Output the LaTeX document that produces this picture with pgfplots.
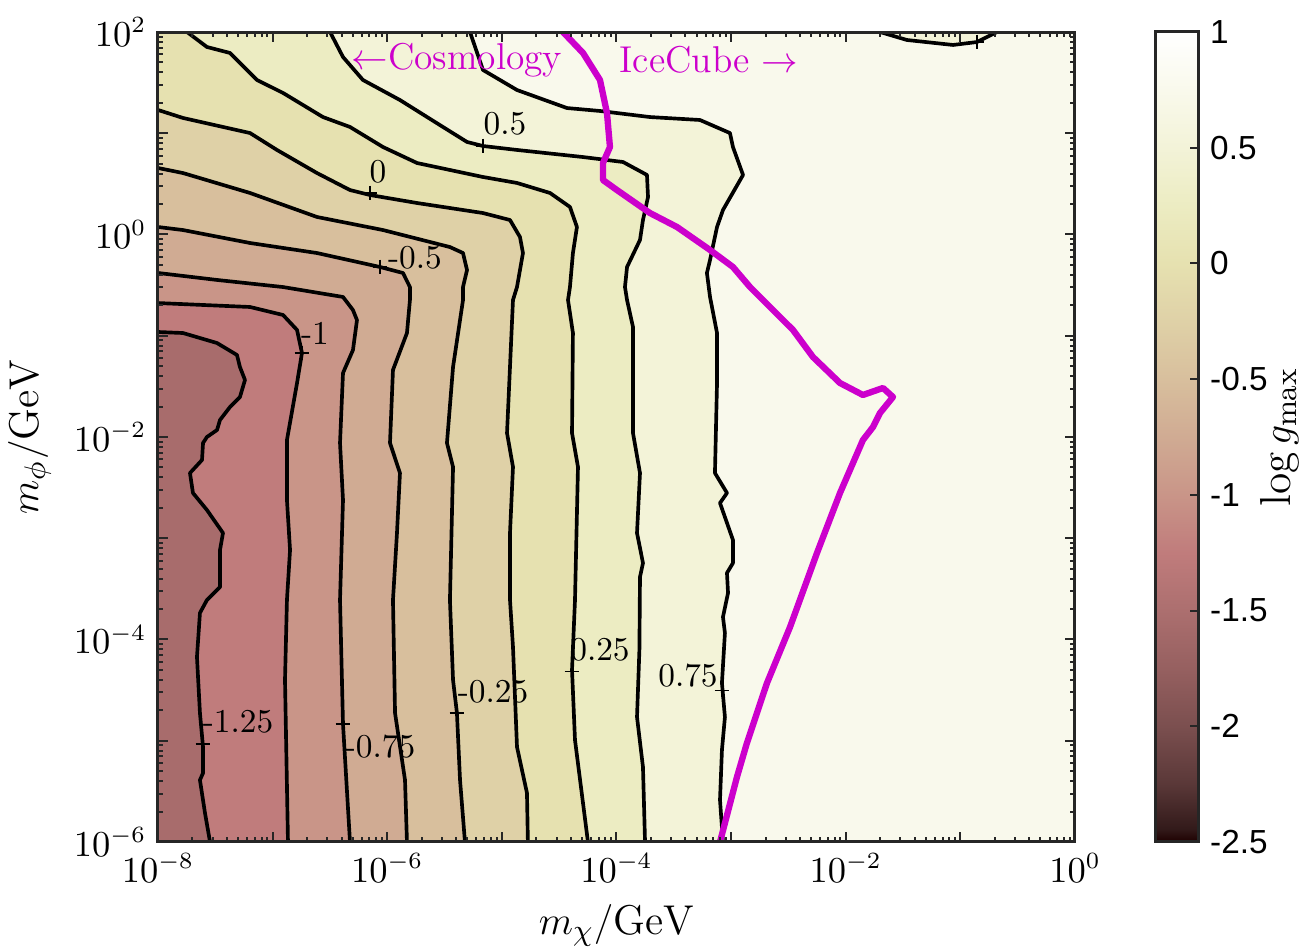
\documentclass[border=0pt]{standalone}
\usepackage{fontspec}
\setsansfont{Liberation Sans}
\usepackage{pgfplots}
\usepackage{pgfplotstable}
\pgfplotsset{compat=1.18}

% filled bands (colour of the lower level, MATLAB "pink")
\definecolor{rA}{RGB}{249,249,236}
\definecolor{rB}{RGB}{243,243,216}
\definecolor{rC}{RGB}{236,236,194}
\definecolor{rD}{RGB}{230,225,176}
\definecolor{rE}{RGB}{223,209,167}
\definecolor{rF}{RGB}{216,191,157}
\definecolor{rG}{RGB}{208,171,147}
\definecolor{rH}{RGB}{201,149,136}
\definecolor{rI}{RGB}{192,124,124}
\definecolor{rJ}{RGB}{168,108,108}
\definecolor{icemag}{RGB}{204,0,204}

\pgfplotsset{
  colormap={gpink}{rgb255(0cm)=(30,0,0) rgb255(0.22cm)=(50,26,26) rgb255(1cm)=(90,56,56)
    rgb255(2cm)=(123,79,79) rgb255(3cm)=(150,96,96) rgb255(4cm)=(172,111,111)
    rgb255(5cm)=(192,124,124) rgb255(6cm)=(201,149,136) rgb255(7cm)=(208,171,147)
    rgb255(8cm)=(216,191,157) rgb255(9cm)=(223,209,167) rgb255(10cm)=(230,225,176)
    rgb255(11cm)=(236,236,194) rgb255(12cm)=(243,243,216) rgb255(13cm)=(249,249,236)
    rgb255(14cm)=(255,255,255)},
  band/.style={draw=none, fill=#1, forget plot},
  cline/.style={black, line width=1.1pt, line join=round, forget plot},
}

% contour lines, log10(m_chi) vs log10(m_phi)
\pgfplotstableread{
x y
-5.278 2
-5.165 1.625
-4.868 1.427
-4.432 1.249
-4.144 1.220
-3.708 1.160
-3.272 1.131
-3.010 1.002
-2.984 0.864
-2.896 0.588
-3.071 0.242
-3.123 0.074
-3.184 -0.252
-3.211 -0.380
-3.184 -0.617
-3.123 -0.973
-3.123 -1.467
-3.141 -2.356
-3.036 -2.553
-3.097 -2.652
-2.984 -3.017
-2.984 -3.245
-3.036 -3.343
-3.027 -3.541
-3.071 -3.778
-3.054 -3.936
-3.080 -4.430
-3.054 -4.766
-3.080 -5.092
-3.097 -5.585
-3.071 -6
}\ctA
\pgfplotstableread{
x y
-1.701 2
-1.466 1.921
-1.064 1.872
-0.855 1.901
-0.681 2
}\ctAb
\pgfplotstableread{
x y
-6.499 2
-6.386 1.753
-6.212 1.526
-5.889 1.328
-5.514 1.062
-5.304 0.914
-5.165 0.874
-4.868 0.835
-4.292 0.765
-3.943 0.716
-3.734 0.588
-3.725 0.370
-3.769 0.143
-3.795 -0.054
-3.908 -0.321
-3.926 -0.519
-3.908 -0.647
-3.856 -0.914
-3.856 -1.467
-3.856 -1.961
-3.795 -2.356
-3.821 -2.948
-3.769 -3.245
-3.795 -3.383
-3.800 -4.100
-3.821 -4.766
-3.769 -5.260
-3.751 -6
}\ctB
\pgfplotstableread{
x y
-7.747 2
-7.573 1.852
-7.372 1.793
-7.136 1.526
-6.909 1.398
-6.561 1.160
-6.325 1.062
-6.037 0.864
-5.740 0.706
-5.165 0.568
-4.868 0.509
-4.580 0.410
-4.406 0.272
-4.345 0.074
-4.380 -0.183
-4.406 -0.519
-4.423 -0.647
-4.380 -0.973
-4.388 -1.961
-4.336 -2.296
-4.362 -3.610
-4.388 -4.301
-4.362 -4.993
-4.249 -6
}\ctC
\pgfplotstableread{
x y
-8 1.230
-7.782 1.151
-7.197 1.002
-6.962 0.835
-6.613 0.607
-6.325 0.439
-6.151 0.390
-5.740 0.311
-5.165 0.212
-4.929 0.143
-4.842 -0.025
-4.816 -0.183
-4.868 -0.519
-4.903 -0.647
-4.955 -1.961
-4.903 -2.296
-4.929 -2.948
-4.929 -3.610
-4.903 -4.074
-4.868 -5.062
-4.781 -5.516
-4.773 -6
}\ctD
\pgfplotstableread{
x y
-8 0.657
-7.782 0.607
-7.197 0.410
-6.613 0.173
-6.037 0.044
-5.453 -0.124
-5.339 -0.183
-5.304 -0.351
-5.339 -0.519
-5.339 -0.647
-5.426 -1.309
-5.479 -2.059
-5.426 -2.296
-5.453 -3.610
-5.426 -4.400
-5.392 -4.726
-5.365 -5.388
-5.322 -6
}\ctE
\pgfplotstableread{
x y
-8 0.074
-7.782 0.044
-7.197 -0.084
-6.613 -0.183
-6.063 -0.321
-5.863 -0.380
-5.802 -0.519
-5.802 -0.647
-5.828 -0.973
-5.950 -1.338
-5.976 -2.059
-5.889 -2.356
-5.915 -2.948
-5.950 -3.610
-5.932 -4.726
-5.845 -5.388
-5.828 -6
}\ctF
\pgfplotstableread{
x y
-8 -0.380
-7.485 -0.449
-6.909 -0.519
-6.386 -0.617
-6.299 -0.746
-6.264 -0.845
-6.299 -1.141
-6.386 -1.368
-6.412 -2.059
-6.386 -2.622
-6.412 -3.610
-6.386 -4.835
-6.325 -6
}\ctG
\pgfplotstableread{
x y
-8 -0.677
-7.197 -0.716
-6.909 -0.795
-6.787 -0.943
-6.744 -1.170
-6.787 -1.467
-6.875 -2.030
-6.875 -2.622
-6.848 -3.116
-6.875 -3.610
-6.892 -4.400
-6.866 -6
}\ctH
\pgfplotstableread{
x y
-8 -0.963
-7.782 -0.973
-7.485 -1.072
-7.311 -1.190
-7.285 -1.309
-7.241 -1.437
-7.285 -1.605
-7.372 -1.704
-7.459 -1.832
-7.485 -1.931
-7.573 -2.000
-7.607 -2.059
-7.616 -2.227
-7.721 -2.356
-7.695 -2.553
-7.573 -2.721
-7.433 -2.948
-7.459 -3.116
-7.459 -3.482
-7.573 -3.610
-7.634 -3.738
-7.660 -4.173
-7.634 -4.726
-7.607 -5.062
-7.607 -5.319
-7.634 -5.388
-7.590 -5.714
-7.546 -6
}\ctI
% IceCube boundary
\pgfplotstableread{
x y
-4.467 2
-4.292 1.793
-4.144 1.526
-4.083 1.200
-4.057 0.864
-4.118 0.706
-4.118 0.538
-3.996 0.439
-3.708 0.212
-3.472 0.074
-3.184 -0.153
-2.984 -0.321
-2.835 -0.519
-2.547 -0.845
-2.460 -0.943
-2.286 -1.210
-2.050 -1.467
-1.850 -1.585
-1.675 -1.516
-1.588 -1.605
-1.701 -1.763
-1.762 -1.901
-1.850 -2.030
-2.050 -2.553
-2.251 -3.146
-2.486 -3.877
-2.687 -4.430
-2.862 -5.022
-2.949 -5.358
-3.097 -6
}\ctIce

\begin{document}
\begin{tikzpicture}
\begin{axis}[
  name=main,
  scale only axis, width=275.1pt, height=243pt,
  xmin=-8, xmax=0, ymin=-6, ymax=2, enlargelimits=false,
  axis on top,
  tick pos=both, tick align=inside,
  major tick length=3pt, minor tick length=1.5pt,
  tick style={black!85, line width=0.6pt},
  axis line style={black!85, line width=0.9pt},
  xtick={-8,-7,...,0},
  xticklabels={$10^{-8}$,,$10^{-6}$,,$10^{-4}$,,$10^{-2}$,,$10^{0}$},
  ytick={-6,-5,...,2},
  yticklabels={$10^{-6}$,,$10^{-4}$,,$10^{-2}$,,$10^{0}$,,$10^{2}$},
  minor xtick={-7.699,-7.523,-7.398,-7.301,-7.222,-7.155,-7.097,-7.046,
    -6.699,-6.523,-6.398,-6.301,-6.222,-6.155,-6.097,-6.046,
    -5.699,-5.523,-5.398,-5.301,-5.222,-5.155,-5.097,-5.046,
    -4.699,-4.523,-4.398,-4.301,-4.222,-4.155,-4.097,-4.046,
    -3.699,-3.523,-3.398,-3.301,-3.222,-3.155,-3.097,-3.046,
    -2.699,-2.523,-2.398,-2.301,-2.222,-2.155,-2.097,-2.046,
    -1.699,-1.523,-1.398,-1.301,-1.222,-1.155,-1.097,-1.046,
    -0.699,-0.523,-0.398,-0.301,-0.222,-0.155,-0.097,-0.046},
  minor ytick={-5.699,-5.523,-5.398,-5.301,-5.222,-5.155,-5.097,-5.046,
    -4.699,-4.523,-4.398,-4.301,-4.222,-4.155,-4.097,-4.046,
    -3.699,-3.523,-3.398,-3.301,-3.222,-3.155,-3.097,-3.046,
    -2.699,-2.523,-2.398,-2.301,-2.222,-2.155,-2.097,-2.046,
    -1.699,-1.523,-1.398,-1.301,-1.222,-1.155,-1.097,-1.046,
    -0.699,-0.523,-0.398,-0.301,-0.222,-0.155,-0.097,-0.046,
    0.301,0.477,0.602,0.699,0.778,0.845,0.903,0.954,
    1.301,1.477,1.602,1.699,1.778,1.845,1.903,1.954},
  tick label style={font=\fontsize{10.5}{12}\selectfont},
  label style={font=\fontsize{12.5}{15}\selectfont},
  xlabel={$m_\chi/\mathrm{GeV}$},
  ylabel={$m_\phi/\mathrm{GeV}$},
  colorbar, colormap name=gpink,
  point meta min=-2.5, point meta max=1,
  colorbar style={
    width=12.9pt,
    at={(parent axis.north east)}, anchor=north west, xshift=15.6pt,
    xtick=\empty, xlabel={},
    ytick={-2.5,-2,-1.5,-1,-0.5,0,0.5,1},
    yticklabels={-2.5,-2,-1.5,-1,-0.5,0,0.5,1},
    ytick pos=right, yticklabel pos=right,
    tick align=inside, major tick length=2.4pt,
    yticklabel style={font=\sffamily\fontsize{10}{12}\selectfont},
    axis line style={black!85, line width=0.9pt},
    ylabel={$\log g_{\max}$},
    ylabel shift=-9pt,
    ylabel style={font=\fontsize{13}{15}\selectfont},
  },
]
% bands, from the top level down
\addplot[band=rA] coordinates {(-8,-6) (0,-6) (0,2) (-8,2)} -- cycle;
\addplot[band=rB] table {\ctA} -- (rel axis cs:0,0) -- (rel axis cs:0,1) -- cycle;
\addplot[band=rB] table {\ctAb} -- cycle;
\addplot[band=rC] table {\ctB} -- (rel axis cs:0,0) -- (rel axis cs:0,1) -- cycle;
\addplot[band=rD] table {\ctC} -- (rel axis cs:0,0) -- (rel axis cs:0,1) -- cycle;
\addplot[band=rE] table {\ctD} -- (rel axis cs:0,0) -- cycle;
\addplot[band=rF] table {\ctE} -- (rel axis cs:0,0) -- cycle;
\addplot[band=rG] table {\ctF} -- (rel axis cs:0,0) -- cycle;
\addplot[band=rH] table {\ctG} -- (rel axis cs:0,0) -- cycle;
\addplot[band=rI] table {\ctH} -- (rel axis cs:0,0) -- cycle;
\addplot[band=rJ] table {\ctI} -- (rel axis cs:0,0) -- cycle;
% contour lines
\addplot[cline] table {\ctA};
\addplot[cline] table {\ctAb};
\addplot[cline] table {\ctB};
\addplot[cline] table {\ctC};
\addplot[cline] table {\ctD};
\addplot[cline] table {\ctE};
\addplot[cline] table {\ctF};
\addplot[cline] table {\ctG};
\addplot[cline] table {\ctH};
\addplot[cline] table {\ctI};
% label markers
\addplot[only marks, mark=+, mark size=2.2pt, black, mark options={line width=0.35pt}, forget plot]
  coordinates {(-3.080,-4.50) (-0.855,1.901) (-5.165,0.874) (-4.388,-4.32) (-6.151,0.41)
    (-5.392,-4.726) (-6.063,-0.321) (-6.386,-4.835) (-6.744,-1.170) (-7.607,-5.032)};
% IceCube
\addplot[icemag, line width=1.9pt, line join=round, forget plot] table {\ctIce};
\begin{scope}[font=\fontsize{10}{12}\selectfont, inner sep=0pt]
\node at (axis cs:-3.376,-4.361) {0.75};
\node at (axis cs:-4.973,1.091) {0.5};
\node at (axis cs:-4.144,-4.104) {0.25};
\node at (axis cs:-6.081,0.617) {0};
\node at (axis cs:-5.077,-4.519) {-0.25};
\node at (axis cs:-5.758,-0.232) {-0.5};
\node at (axis cs:-6.063,-5.062) {-0.75};
\node at (axis cs:-6.630,-0.973) {-1};
\node at (axis cs:-7.302,-4.815) {-1.25};
\end{scope}
\node[icemag, font=\fontsize{11.2}{13}\selectfont, inner sep=0pt] at (axis cs:-5.392,1.723) {$\leftarrow$Cosmology};
\node[icemag, font=\fontsize{11.2}{13}\selectfont, inner sep=0pt] at (axis cs:-3.193,1.723) {IceCube $\rightarrow$};
\end{axis}
\pgfresetboundingbox
\path[use as bounding box] (main.south west) ++(-47.4pt,-32.7pt) rectangle ++(394.2pt,285.3pt);
\end{tikzpicture}
\end{document}
